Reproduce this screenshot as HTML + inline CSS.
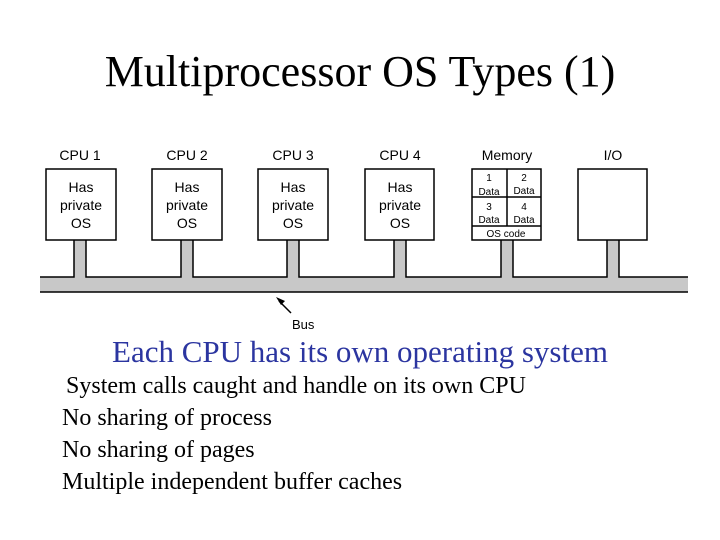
<!DOCTYPE html>
<html><head><style>
body{margin:0;width:720px;height:540px;background:#fff;position:relative;overflow:hidden;font-family:"Liberation Serif",serif}
.t{position:absolute;white-space:nowrap;line-height:1.15}
</style></head><body>
<div class="t" style="left:0;width:720px;text-align:center;top:47px;font-size:44px">Multiprocessor OS Types (1)</div>
<svg width="720" height="340" style="position:absolute;left:0;top:0" font-family="Liberation Sans, sans-serif">
<g fill="#000" font-size="14" text-anchor="middle">
<text x="80" y="160">CPU 1</text><text x="187" y="160">CPU 2</text><text x="293" y="160">CPU 3</text><text x="400" y="160">CPU 4</text><text x="507" y="160">Memory</text><text x="613" y="160">I/O</text>
</g>
<path d="M40 277 H74 V240 H86 V277 H181 V240 H193 V277 H287 V240 H299 V277 H394 V240 H406 V277 H501 V240 H513 V277 H607 V240 H619 V277 H688 V292 H40 Z" fill="#c8c8c8"/>
<path d="M40 277 H74 V240 M86 240 V277 H181 V240 M193 240 V277 H287 V240 M299 240 V277 H394 V240 M406 240 V277 H501 V240 M513 240 V277 H607 V240 M619 240 V277 H688 M40 292 H688" fill="none" stroke="#000" stroke-width="1.5"/>
<g fill="#fff" stroke="#000" stroke-width="1.5">
<rect x="46" y="169" width="70" height="71"/><rect x="152" y="169" width="70" height="71"/><rect x="258" y="169" width="70" height="71"/><rect x="365" y="169" width="69" height="71"/><rect x="472" y="169" width="69" height="71"/><rect x="578" y="169" width="69" height="71"/>
<path d="M507 169 V226 M472 197 H541 M472 226 H541" fill="none"/>
</g>
<g font-size="14" text-anchor="middle">
<text x="81" y="192">Has</text><text x="81" y="210">private</text><text x="81" y="228">OS</text>
<text x="187" y="192">Has</text><text x="187" y="210">private</text><text x="187" y="228">OS</text>
<text x="293" y="192">Has</text><text x="293" y="210">private</text><text x="293" y="228">OS</text>
<text x="400" y="192">Has</text><text x="400" y="210">private</text><text x="400" y="228">OS</text>
</g>
<g font-size="10" text-anchor="middle">
<text x="489" y="181">1</text><text x="489" y="195">Data</text><text x="524" y="181">2</text><text x="524" y="194">Data</text>
<text x="489" y="210">3</text><text x="489" y="223">Data</text><text x="524" y="210">4</text><text x="524" y="223">Data</text>
<text x="506" y="237">OS code</text>
</g>
<path d="M291 313 L279 301" stroke="#000" stroke-width="1.5"/><path d="M276 297 L285 301 L281 305 Z" fill="#000"/>
<text x="292" y="329" font-size="13">Bus</text>
</svg>
<div class="t" style="left:0;width:720px;text-align:center;top:334px;font-size:31px;color:#2b35a0">Each CPU has its own operating system</div>
<div class="t" style="left:66px;top:373px;font-size:24px">System calls caught and handle on its own CPU</div>
<div class="t" style="left:62px;top:405px;font-size:24px">No sharing of process</div>
<div class="t" style="left:62px;top:437px;font-size:24px">No sharing of pages</div>
<div class="t" style="left:62px;top:469px;font-size:24px">Multiple independent buffer caches</div>
</body></html>
